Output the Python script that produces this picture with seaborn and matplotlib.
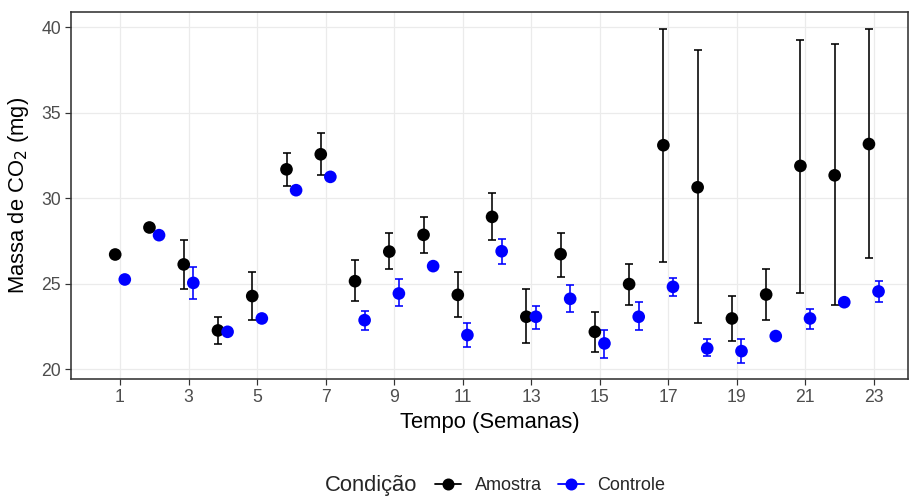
import numpy as np
import pandas as pd
import seaborn as sns
import matplotlib
matplotlib.use("Agg")
import matplotlib.pyplot as plt
from matplotlib.lines import Line2D

weeks = list(range(1, 24))
amostra_mean = [26.70, 28.28, 26.12, 22.26, 24.27, 31.68, 32.56, 25.14, 26.87, 27.85, 24.34, 28.90,
                23.06, 26.72, 22.18, 24.97, 33.09, 30.63, 22.96, 24.36, 31.88, 31.33, 33.16]
amostra_low = [26.70, 28.28, 24.69, 21.48, 22.88, 30.73, 31.35, 24.01, 25.86, 26.80, 23.06, 27.54,
               21.50, 25.41, 20.97, 23.76, 26.29, 22.71, 21.66, 22.86, 24.46, 23.76, 26.47]
amostra_high = [26.70, 28.28, 27.52, 23.06, 25.65, 32.66, 33.79, 26.37, 27.93, 28.90, 25.65, 30.30,
                24.71, 27.95, 23.31, 26.12, 39.90, 38.68, 24.28, 25.86, 39.22, 39.03, 39.90]
controle_mean = [25.24, 27.83, 25.04, 22.18, 22.96, 30.46, 31.24, 22.86, 24.42, 26.02, 21.99, 26.89,
                 23.06, 24.11, 21.50, 23.06, 24.81, 21.21, 21.05, 21.93, 22.96, 23.91, 24.54]
controle_low = [25.24, 27.83, 24.11, 22.18, 22.96, 30.46, 31.24, 22.28, 23.68, 26.02, 21.30, 26.12,
                22.36, 23.33, 20.62, 22.28, 24.26, 20.78, 20.33, 21.93, 22.34, 23.91, 23.91]
controle_high = [25.24, 27.83, 25.94, 22.18, 22.96, 30.46, 31.24, 23.41, 25.24, 26.02, 22.71, 27.60,
                 23.68, 24.89, 22.28, 23.93, 25.34, 21.73, 21.73, 21.93, 23.49, 23.91, 25.14]
conditions = ["Amostra", "Controle"]
colors = {"Amostra": "#000000", "Controle": "#0000FF"}
x_ticks = list(range(1, 24, 2))
y_ticks = [20, 25, 30, 35, 40]

dodge = {"Amostra": -0.14, "Controle": 0.14}
df = pd.concat([
    pd.DataFrame({"Tempo": weeks, "Massa": amostra_mean, "low": amostra_low, "high": amostra_high,
                  "Condicao": "Amostra"}),
    pd.DataFrame({"Tempo": weeks, "Massa": controle_mean, "low": controle_low, "high": controle_high,
                  "Condicao": "Controle"}),
], ignore_index=True)
df["x"] = df["Tempo"] + df["Condicao"].map(dodge)

sns.set_theme(style="white")
plt.rcParams["font.family"] = ["Liberation Sans", "DejaVu Sans"]

fig = plt.figure(figsize=(910 / 144, 497 / 144), dpi=144)
ax = fig.add_axes([71 / 910, 1 - 379 / 497, (908 - 71) / 910, (379 - 12) / 497])

ax.set_axisbelow(True)
ax.grid(True, color="#EBEBEB", linewidth=0.6)

for cond in conditions:
    sub = df[df["Condicao"] == cond]
    ax.errorbar(sub["x"], sub["Massa"],
                yerr=[sub["Massa"] - sub["low"], sub["high"] - sub["Massa"]],
                fmt="none", ecolor=colors[cond], elinewidth=0.8, capsize=2.0, capthick=0.8, zorder=2)

sns.scatterplot(data=df, x="x", y="Massa", hue="Condicao", palette=colors, s=40,
                edgecolor="none", legend=False, ax=ax, zorder=3)

ax.set_xlim(-0.43, 24.0)
ax.set_ylim(19.42, 40.88)
ax.set_xticks(x_ticks)
ax.set_yticks(y_ticks)
ax.tick_params(axis="both", which="major", direction="out", length=3, width=0.6,
               color="#333333", labelcolor="#4D4D4D", labelsize=8.8, pad=2,
               bottom=True, left=True)
for s in ax.spines.values():
    s.set_color("#333333")
    s.set_linewidth(0.8)
ax.set_xlabel("Tempo (Semanas)", fontsize=11, color="black", labelpad=3)
ax.set_ylabel("Massa de CO$_2$ (mg)", fontsize=11, color="black", labelpad=5)

handles = [Line2D([0], [0], color=colors[c], marker="o", markersize=5, linewidth=0.9) for c in conditions]
fig.text(325 / 910, 1 - 486 / 497, "Condição", fontsize=11, va="center", ha="left")
fig.legend(handles, conditions, loc="center left", bbox_to_anchor=(435 / 910, 1 - 486 / 497),
           ncol=2, frameon=False, fontsize=9.0, handlelength=1.45, handletextpad=0.75,
           columnspacing=0.9, borderaxespad=0, borderpad=0)

fig.savefig("out.png", dpi=144, facecolor="white")
